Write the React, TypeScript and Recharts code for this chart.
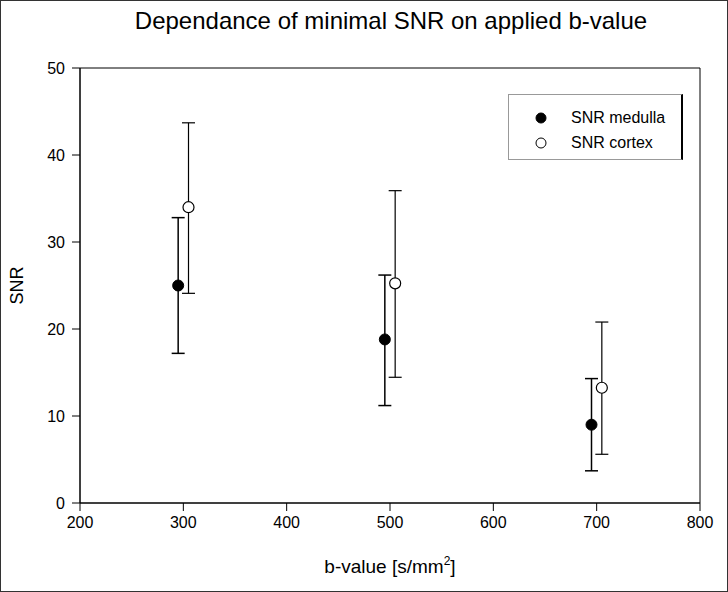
import {
  ScatterChart,
  Scatter,
  XAxis,
  YAxis,
  ErrorBar,
  ReferenceArea,
} from "recharts";

const FONT = "'Liberation Sans', Arial, sans-serif";

const medullaB = [295, 495, 695];
const medullaSNR = [25.0, 18.8, 9.0];
const medullaLow = [17.2, 11.2, 3.7];
const medullaHigh = [32.8, 26.2, 14.3];

const cortexB = [305, 505, 705];
const cortexSNR = [34.0, 25.25, 13.25];
const cortexLow = [24.1, 14.45, 5.6];
const cortexHigh = [43.7, 35.9, 20.8];

const xTicks = [200, 300, 400, 500, 600, 700, 800];
const yTicks = [0, 10, 20, 30, 40, 50];

const medulla = medullaB.map((b, i) => ({
  b,
  snr: medullaSNR[i],
  err: [medullaSNR[i] - medullaLow[i], medullaHigh[i] - medullaSNR[i]],
}));

const cortex = cortexB.map((b, i) => ({
  b,
  snr: cortexSNR[i],
  err: [cortexSNR[i] - cortexLow[i], cortexHigh[i] - cortexSNR[i]],
}));

const FilledDot = (props: any) => (
  <circle cx={props.cx} cy={props.cy} r={5.5} fill="#000" stroke="#000" />
);
const OpenDot = (props: any) => (
  <circle cx={props.cx} cy={props.cy} r={5.5} fill="#fff" stroke="#000" strokeWidth={1.2} />
);

function LegendBox() {
  const row = (filled: boolean, label: string) => (
    <div style={{ display: "flex", alignItems: "center", height: 25 }}>
      <svg width={42} height={14} style={{ marginLeft: 20 }}>
        <circle cx={12} cy={7} r={5} fill={filled ? "#000" : "#fff"} stroke="#000" />
      </svg>
      <span style={{ fontSize: 16, color: "#000" }}>{label}</span>
    </div>
  );
  return (
    <div
      style={{
        position: "absolute",
        left: 507,
        top: 93,
        width: 175,
        height: 66,
        borderLeft: "1px solid #999",
        borderTop: "1px solid #999",
        borderBottom: "1px solid #999",
        borderRight: "2px solid #000",
        paddingTop: 10,
        boxSizing: "border-box",
        fontFamily: FONT,
        background: "#fff",
      }}
    >
      {row(true, "SNR medulla")}
      {row(false, "SNR cortex")}
    </div>
  );
}

const XLabel = (props: any) => {
  const { viewBox } = props;
  const cx = viewBox.x + viewBox.width / 2;
  return (
    <text x={cx} y={573} textAnchor="middle" fontSize={19} fontFamily={FONT} fill="#000">
      b-value [s/mm
      <tspan dy={-8} fontSize={12}>2</tspan>
      <tspan dy={8}>]</tspan>
    </text>
  );
};

export default function App() {
  return (
    <div
      style={{
        position: "fixed",
        left: 0,
        top: 0,
        width: 728,
        height: 592,
        border: "1px solid #333",
        boxSizing: "border-box",
        background: "#fff",
        fontFamily: FONT,
      }}
    >
      <div
        style={{
          position: "absolute",
          left: 26,
          top: 6,
          width: 728,
          textAlign: "center",
          fontSize: 24,
          color: "#000",
          whiteSpace: "nowrap",
        }}
      >
        Dependance of minimal SNR on applied b-value
      </div>
      <div style={{ position: "absolute", left: -1, top: -1 }}>
        <ScatterChart
          width={728}
          height={592}
          margin={{ top: 68, right: 28, bottom: 19, left: 17 }}
        >
          <XAxis
            type="number"
            dataKey="b"
            domain={[200, 800]}
            ticks={xTicks}
            tickSize={8}
            tickMargin={6}
            height={70}
            stroke="#000"
            tick={{ fill: "#000", fontSize: 16, fontFamily: FONT }}
            label={<XLabel />}
          />
          <YAxis
            type="number"
            dataKey="snr"
            domain={[0, 50]}
            ticks={yTicks}
            tickSize={8}
            tickMargin={7}
            width={63}
            stroke="#000"
            tick={{ fill: "#000", fontSize: 16, fontFamily: FONT }}
            label={{
              value: "SNR",
              angle: -90,
              position: "insideLeft",
              offset: 0,
              style: { fill: "#000", fontSize: 18, fontFamily: FONT, textAnchor: "middle" },
            }}
          />
          <ReferenceArea
            x1={200}
            x2={800}
            y1={0}
            y2={50}
            fill="none"
            stroke="#000"
            strokeWidth={1}
            ifOverflow="visible"
          />
          <Scatter
            name="SNR medulla"
            data={medulla}
            shape={FilledDot}
            isAnimationActive={false}
          >
            <ErrorBar dataKey="err" direction="y" width={6.5} stroke="#000" strokeWidth={1.5} />
          </Scatter>
          <Scatter
            name="SNR cortex"
            data={cortex}
            shape={OpenDot}
            isAnimationActive={false}
          >
            <ErrorBar dataKey="err" direction="y" width={6.5} stroke="#000" strokeWidth={1.2} />
          </Scatter>
        </ScatterChart>
      </div>
      <LegendBox />
    </div>
  );
}
